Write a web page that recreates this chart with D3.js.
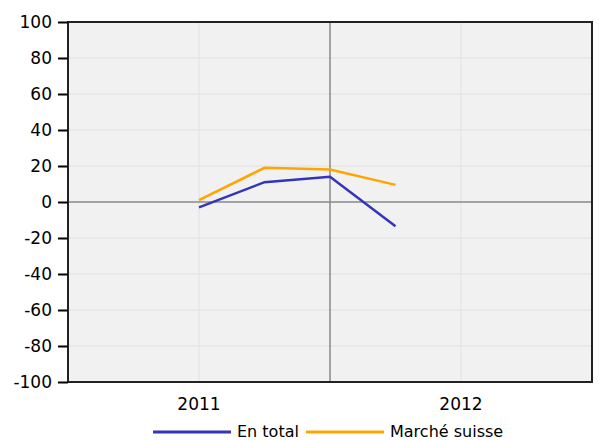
<!DOCTYPE html>
<html lang="fr">
<head>
<meta charset="UTF-8">
<style>
    body { margin: 0; background: #fff; }
    text { font-family: "DejaVu Sans", sans-serif; fill: #000; }
</style>
<script src="https://d3js.org/d3.v7.min.js"></script>
</head>
<body>
<div id="chart"></div>
<script>
    // quarters counted from 2011 Q1 (0) onward
    var quarters = [0, 1, 2, 3];
    var enTotal = [-3, 11, 14, -13.5];
    var marcheSuisse = [1, 19, 18, 9.5];
    var yearLabels = ["2011", "2012"];
    var yearPos = [0, 4];
    var yTicks = [-100, -80, -60, -40, -20, 0, 20, 40, 60, 80, 100];

    var width = 599, height = 440;
    var margin = { top: 22, right: 7, bottom: 58, left: 68 };

    var svg = d3.select("#chart").append("svg")
        .attr("width", width)
        .attr("height", height);

    var x = d3.scaleLinear().domain([-2, 6]).range([margin.left, width - margin.right]);
    var y = d3.scaleLinear().domain([-100, 100]).range([height - margin.bottom, margin.top]);

    // plot background
    svg.append("rect")
        .attr("x", x(-2)).attr("y", y(100))
        .attr("width", x(6) - x(-2)).attr("height", y(-100) - y(100))
        .attr("fill", "#f1f1f1");

    // horizontal grid
    svg.selectAll(".hgrid")
        .data(yTicks.filter(function (d) { return d !== 0 && Math.abs(d) !== 100; }))
        .enter().append("line")
        .attr("x1", x(-2)).attr("x2", x(6))
        .attr("y1", function (d) { return y(d); })
        .attr("y2", function (d) { return y(d); })
        .attr("stroke", "#e6e6e6").attr("stroke-width", 1.5);

    // vertical grid at year marks
    svg.selectAll(".vgrid")
        .data(yearPos)
        .enter().append("line")
        .attr("x1", function (d) { return x(d); })
        .attr("x2", function (d) { return x(d); })
        .attr("y1", y(100)).attr("y2", y(-100))
        .attr("stroke", "#e6e6e6").attr("stroke-width", 1.5);

    // zero line and mid-line
    svg.append("line")
        .attr("x1", x(-2)).attr("x2", x(6))
        .attr("y1", y(0)).attr("y2", y(0))
        .attr("stroke", "#888").attr("stroke-width", 1.5);
    svg.append("line")
        .attr("x1", x(2)).attr("x2", x(2))
        .attr("y1", y(100)).attr("y2", y(-100))
        .attr("stroke", "#888").attr("stroke-width", 1.5);

    // series
    var line = d3.line()
        .x(function (d) { return x(d[0]); })
        .y(function (d) { return y(d[1]); });

    svg.append("path")
        .datum(d3.zip(quarters, marcheSuisse))
        .attr("d", line)
        .attr("fill", "none")
        .attr("stroke", "#ffa500")
        .attr("stroke-width", 2.5);

    svg.append("path")
        .datum(d3.zip(quarters, enTotal))
        .attr("d", line)
        .attr("fill", "none")
        .attr("stroke", "#3333bb")
        .attr("stroke-width", 2.5);

    // frame
    svg.append("rect")
        .attr("x", x(-2)).attr("y", y(100))
        .attr("width", x(6) - x(-2)).attr("height", y(-100) - y(100))
        .attr("fill", "none")
        .attr("stroke", "#222").attr("stroke-width", 2);

    // y axis (plain hyphen for negatives, like the original)
    var yAxis = svg.append("g")
        .attr("transform", "translate(" + x(-2) + ",0)")
        .call(d3.axisLeft(y).tickValues(yTicks).tickSize(10).tickPadding(6)
            .tickFormat(function (d) { return String(d); }));
    yAxis.select(".domain").remove();
    yAxis.selectAll(".tick line").attr("stroke", "#000").attr("stroke-width", 2);
    yAxis.selectAll("text")
        .style("font-family", "DejaVu Sans, sans-serif")
        .style("font-size", "17px");

    // year labels
    svg.selectAll(".year")
        .data(yearLabels)
        .enter().append("text")
        .attr("x", function (d, i) { return x(yearPos[i]); })
        .attr("y", 410)
        .attr("text-anchor", "middle")
        .style("font-size", "17px")
        .text(function (d) { return d; });

    // legend
    var legend = [
        { name: "En total", color: "#3333bb", x: 153 },
        { name: "Marché suisse", color: "#ffa500", x: 306 }
    ];
    var lg = svg.selectAll(".legend")
        .data(legend)
        .enter().append("g")
        .attr("transform", function (d) { return "translate(" + d.x + ",432)"; });
    lg.append("line")
        .attr("x1", 0).attr("x2", 78)
        .attr("y1", 0).attr("y2", 0)
        .attr("stroke", function (d) { return d.color; })
        .attr("stroke-width", 3);
    lg.append("text")
        .attr("x", 84).attr("y", 5)
        .style("font-size", "16px")
        .text(function (d) { return d.name; });
</script>
</body>
</html>
